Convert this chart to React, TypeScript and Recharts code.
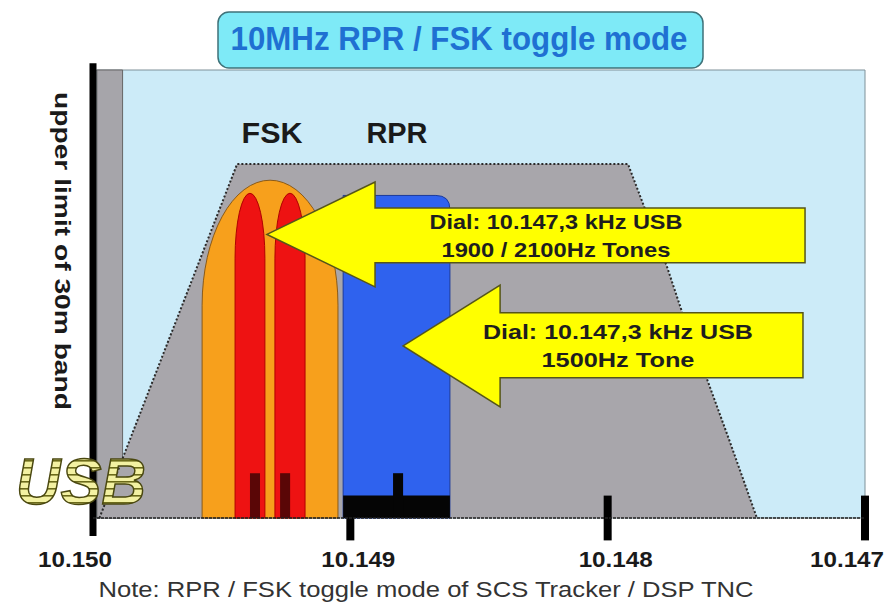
import React from 'react';
import {
  ComposedChart,
  Area,
  XAxis,
  YAxis,
  ReferenceArea,
  ReferenceLine,
  ReferenceDot,
  Label,
} from 'recharts';

const FONT = '"Liberation Sans", Arial, Helvetica, sans-serif';

// x = Hz below 10.150 MHz, y = relative level (0..100)
const freqTicks = [0, 1000, 2000, 3000];
const tickLabels = ['10.150', '10.149', '10.148', '10.147'];
const tickMarkLow = [-4, -5, -5, -5];
const tickMarkHigh = [101.5, 0, 5, 5];

// receiver passband (grey trapezoid)
const passband = [
  { hz: 25, level: 0 },
  { hz: 560, level: 79 },
  { hz: 2079, level: 79 },
  { hz: 2231, level: 56 },
  { hz: 2289, level: 46 },
  { hz: 2386, level: 31 },
  { hz: 2475, level: 17 },
  { hz: 2580, level: 0 },
];

const bandEdge = { from: 15, to: 115 };
const fskEnvelope = { from: 424, to: 952, top: 75.4 };
const fskTones = [
  { from: 552, to: 668, top: 72.5 },
  { from: 707, to: 824, top: 72.5 },
];
const fskMarkers = [
  { from: 610, to: 649, top: 10 },
  { from: 727, to: 766, top: 10 },
];
const rprBlock = { from: 972, to: 1387, top: 72 };
const rprFloor = { from: 972, to: 1387, top: 5 };
const rprMarker = { from: 1166, to: 1205, top: 10 };

const modeLabels = [
  { hz: 696, level: 83.7, text: 'FSK' },
  { hz: 1181, level: 83.7, text: 'RPR' },
];

const arrows = [
  {
    tip: 676, neck: 1096, tail: 2767,
    headTop: 75, headBottom: 51.6, shaftTop: 69.2, shaftBottom: 57,
    textAt: 1799,
    lines: ['Dial: 10.147,3 kHz USB', '1900 / 2100Hz Tones'],
  },
  {
    tip: 1205, neck: 1582, tail: 2759,
    headTop: 52, headBottom: 24.8, shaftTop: 45.8, shaftBottom: 31.3,
    textAt: 2040,
    lines: ['Dial: 10.147,3 kHz USB', '1500Hz Tone'],
  },
];
const arrowTextWidths = [[253, 229], [270, 153]];

const ArchShape = (p: any) => {
  const { x, y, width, height, cap, fill, stroke } = p;
  const c = height * cap;
  const d = `M${x},${y + height} L${x},${y + c} A${width / 2},${c} 0 0 1 ${x + width},${y + c} L${x + width},${y + height} Z`;
  return <path d={d} fill={fill} stroke={stroke} strokeWidth={1} />;
};

const BlockShape = (p: any) => {
  const { x, y, width, height } = p;
  const r = 14;
  const d = `M${x},${y + height} L${x},${y} L${x + width - r},${y} Q${x + width},${y} ${x + width},${y + r} L${x + width},${y + height} Z`;
  return <path d={d} fill="#2F62EE" stroke="#1B3A9C" strokeWidth={1} />;
};

const ArrowShape = (p: any) => {
  const { x, y, width, height, arrow, idx } = p;
  const px = (hz: number) => x + ((hz - arrow.tip) / (arrow.tail - arrow.tip)) * width;
  const py = (lv: number) => y + ((arrow.headTop - lv) / (arrow.headTop - arrow.headBottom)) * height;
  const tipY = (py(arrow.headTop) + py(arrow.headBottom)) / 2;
  const pts = [
    [x, tipY],
    [px(arrow.neck), py(arrow.headTop)],
    [px(arrow.neck), py(arrow.shaftTop)],
    [x + width, py(arrow.shaftTop)],
    [x + width, py(arrow.shaftBottom)],
    [px(arrow.neck), py(arrow.shaftBottom)],
    [px(arrow.neck), py(arrow.headBottom)],
  ]
    .map((q) => q.join(','))
    .join(' ');
  const mid = (py(arrow.shaftTop) + py(arrow.shaftBottom)) / 2;
  const tx = px(arrow.textAt);
  return (
    <g>
      <polygon points={pts} fill="#FFFF00" stroke="#55551A" strokeWidth={1.5} />
      {arrow.lines.map((line: string, i: number) => (
        <text
          key={line}
          x={tx}
          y={mid - 6 + i * 28}
          textAnchor="middle"
          fontFamily={FONT}
          fontWeight="bold"
          fontSize={21}
          fill="#1E1E1E"
          textLength={arrowTextWidths[idx][i]}
          lengthAdjust="spacingAndGlyphs"
        >
          {line}
        </text>
      ))}
    </g>
  );
};

const FreqTick = (p: any) => {
  const { x, y, payload } = p;
  const i = freqTicks.indexOf(payload.value);
  const shift = i === 0 || i === freqTicks.length - 1 ? -18 : 8;
  return (
    <text
      x={x + shift}
      y={y + 41}
      textAnchor="middle"
      fontFamily={FONT}
      fontWeight="bold"
      fontSize={22}
      fill="#1A1A1A"
      textLength={74}
      lengthAdjust="spacingAndGlyphs"
    >
      {tickLabels[i]}
    </text>
  );
};

const NoteLabel = (p: any) => {
  const vb = p.viewBox || { x: 93, y: 518, width: 772 };
  return (
    <text
      x={vb.x + 333}
      y={vb.y + 79}
      textAnchor="middle"
      fontFamily={FONT}
      fontSize={22}
      fill="#333"
      textLength={655}
      lengthAdjust="spacingAndGlyphs"
    >
      Note: RPR / FSK toggle mode of SCS Tracker / DSP TNC
    </text>
  );
};

export default function App() {
  return (
    <div style={{ position: 'absolute', left: 0, top: 0, width: 896, height: 606, background: '#fff' }}>
      <ComposedChart
        width={896}
        height={606}
        data={passband}
        margin={{ top: 70, right: 31, bottom: 0, left: 93 }}
      >
        <XAxis
          dataKey="hz"
          type="number"
          domain={[0, 3000]}
          ticks={freqTicks}
          allowDataOverflow
          height={88}
          tickLine={false}
          axisLine={{ stroke: '#222', strokeWidth: 1.5, strokeDasharray: '3 1' }}
          tick={FreqTick}
          zIndex={20}
        >
          <Label content={NoteLabel} />
        </XAxis>
        <YAxis type="number" domain={[0, 100]} hide allowDataOverflow />

        <ReferenceArea x1={0} x2={3000} y1={0} y2={100} fill="#CCEBF8" fillOpacity={1} stroke="#7F9199" strokeWidth={1} zIndex={1} />
        <ReferenceArea x1={bandEdge.from} x2={bandEdge.to} y1={0} y2={100} fill="#A6A5AA" fillOpacity={1} stroke="#666" strokeWidth={1} zIndex={2} />

        <Area
          dataKey="level"
          type="linear"
          fill="#A8A6AB"
          fillOpacity={1}
          stroke="#2A2A2A"
          strokeWidth={2}
          strokeDasharray="2 2"
          isAnimationActive={false}
          dot={false}
          activeDot={false}
          zIndex={3}
        />

        <ReferenceArea
          x1={fskEnvelope.from}
          x2={fskEnvelope.to}
          y1={0}
          y2={fskEnvelope.top}
          zIndex={4}
          shape={(p: any) => <ArchShape {...p} cap={0.37} fill="#F7A01C" stroke="#8A5A18" />}
        />
        {fskTones.map((t, i) => (
          <ReferenceArea
            key={`tone-${i}`}
            x1={t.from}
            x2={t.to}
            y1={0}
            y2={t.top}
            zIndex={5}
            shape={(p: any) => <ArchShape {...p} cap={0.2} fill="#EE1212" stroke="#B00000" />}
          />
        ))}
        {fskMarkers.map((m, i) => (
          <ReferenceArea key={`mk-${i}`} x1={m.from} x2={m.to} y1={0} y2={m.top} fill="#5A0606" fillOpacity={1} zIndex={6} />
        ))}
        <ReferenceArea
          x1={rprBlock.from}
          x2={rprBlock.to}
          y1={0}
          y2={rprBlock.top}
          zIndex={7}
          shape={(p: any) => <BlockShape {...p} />}
        />
        <ReferenceArea x1={rprFloor.from} x2={rprFloor.to} y1={0} y2={rprFloor.top} fill="#050505" fillOpacity={1} zIndex={8} />
        <ReferenceArea x1={rprMarker.from} x2={rprMarker.to} y1={0} y2={rprMarker.top} fill="#050505" fillOpacity={1} zIndex={8} />

        {arrows.map((a, i) => (
          <ReferenceArea
            key={`arrow-${i}`}
            x1={a.tip}
            x2={a.tail}
            y1={a.headBottom}
            y2={a.headTop}
            zIndex={10}
            shape={(p: any) => <ArrowShape {...p} arrow={a} idx={i} />}
          />
        ))}

        {modeLabels.map((m) => (
          <ReferenceDot
            key={m.text}
            x={m.hz}
            y={m.level}
            r={0}
            ifOverflow="visible"
            zIndex={11}
            shape={(p: any) => (
              <text
                x={p.cx}
                y={p.cy}
                textAnchor="middle"
                fontFamily={FONT}
                fontWeight="bold"
                fontSize={29}
                fill="#1A1A1A"
                textLength={61}
                lengthAdjust="spacingAndGlyphs"
              >
                {m.text}
              </text>
            )}
          />
        ))}

        {freqTicks.map((hz, i) => (
          <ReferenceLine
            key={`tk-${hz}`}
            segment={[
              { x: hz, y: tickMarkLow[i] },
              { x: hz, y: tickMarkHigh[i] },
            ]}
            stroke="#000"
            strokeWidth={i === 0 ? 7 : 8}
            ifOverflow="visible"
            zIndex={12}
          />
        ))}
      </ComposedChart>

      <svg
        width={896}
        height={606}
        style={{ position: 'absolute', left: 0, top: 0, pointerEvents: 'none' }}
      >
        <defs>
          <pattern id="usbStripes" width="6" height="7" patternUnits="userSpaceOnUse">
            <rect width="6" height="7" fill="#F3F1A2" />
            <rect y="5" width="6" height="1.6" fill="#6B6A1A" />
          </pattern>
        </defs>
        <rect x={218} y={12} width={485} height={56} rx={11} fill="#7EEAF7" stroke="#3F7279" strokeWidth={1.5} />
        <text
          x={459}
          y={50}
          textAnchor="middle"
          fontFamily={FONT}
          fontWeight="bold"
          fontSize={33}
          fill="#1F70D2"
          textLength={457}
          lengthAdjust="spacingAndGlyphs"
        >
          10MHz RPR / FSK toggle mode
        </text>
        <text
          transform="translate(55 251) rotate(90)"
          textAnchor="middle"
          fontFamily={FONT}
          fontWeight="bold"
          fontSize={22}
          fill="#1A1A1A"
          textLength={318}
          lengthAdjust="spacingAndGlyphs"
        >
          upper limit of 30m band
        </text>
        <text
          x={81}
          y={504}
          textAnchor="middle"
          fontFamily={FONT}
          fontWeight="bold"
          fontStyle="italic"
          fontSize={64}
          fill="url(#usbStripes)"
          stroke="#4A4810"
          strokeWidth={1.5}
          textLength={130}
          lengthAdjust="spacingAndGlyphs"
        >
          USB
        </text>
      </svg>
    </div>
  );
}
